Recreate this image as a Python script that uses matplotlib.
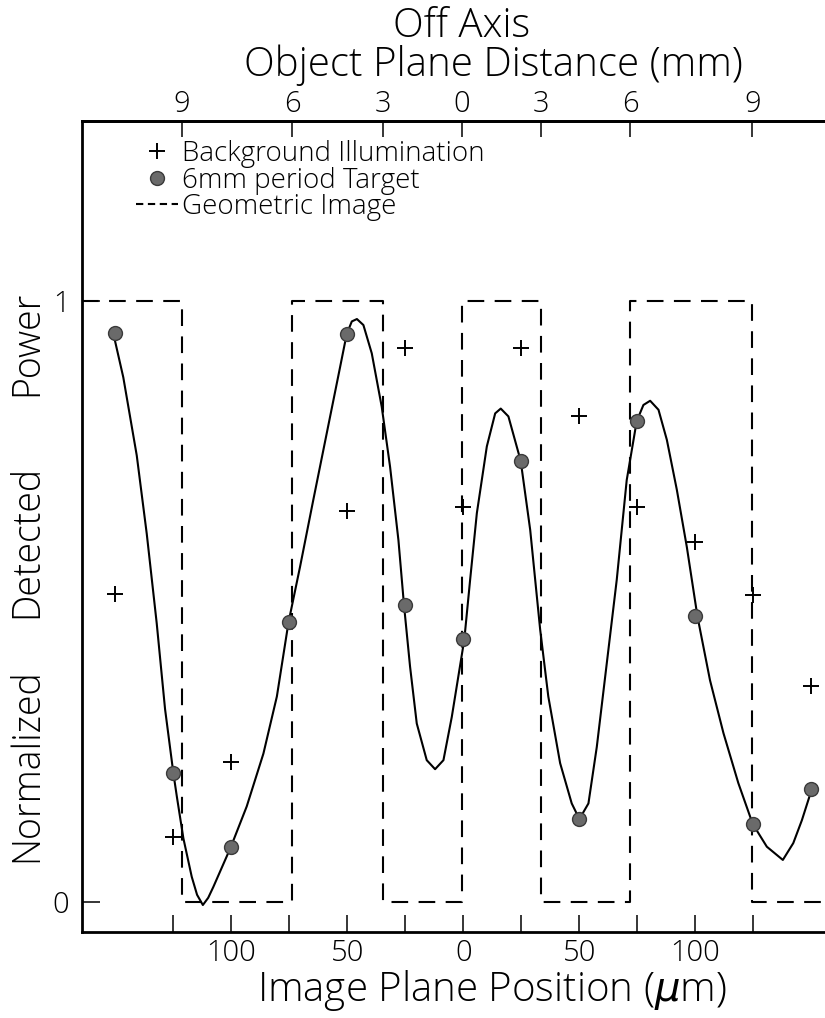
import numpy as np
import matplotlib
matplotlib.use('Agg')
import matplotlib.pyplot as plt
from matplotlib.lines import Line2D

plt.rcParams['font.family'] = ['Open Sans', 'DejaVu Sans']
plt.rcParams['font.weight'] = 'light'
plt.rcParams['mathtext.fontset'] = 'dejavusans'

# 6mm period target (measured points)
target_x = [-150, -125, -100, -75, -50, -25, 0, 25, 50, 75, 100, 125, 150]
target_y = [0.946, 0.214, 0.091, 0.466, 0.945, 0.494, 0.437, 0.734, 0.138, 0.800, 0.476, 0.129, 0.188]

# background illumination
bg_x = [-150, -125, -100, -50, -25, 0, 25, 50, 75, 100, 125, 150]
bg_y = [0.512, 0.108, 0.233, 0.651, 0.922, 0.658, 0.921, 0.809, 0.658, 0.599, 0.511, 0.359]

# fitted curve
curve_x = [-150.9, -146.6, -140.8, -136.5, -132.2, -128.6, -125.0, -123.5, -120.7, -117.1,
           -114.8, -112.3, -110.0, -107.8, -100.3, -93.4, -86.2, -80.4, -75.4, -70.4,
           -64.7, -58.9, -53.1, -50.3, -48.1, -45.9, -43.1, -39.5, -35.2, -31.6,
           -28.0, -25.6, -23.0, -20.1, -15.8, -12.2, -8.6, -5.0, 0.4, 2.9,
           5.8, 10.1, 13.7, 16.1, 19.4, 24.7, 28.8, 33.1, 36.6, 41.7,
           46.7, 50.0, 53.9, 57.5, 61.8, 66.1, 70.4, 74.7, 77.6, 80.5,
           84.1, 87.7, 92.0, 96.3, 100.9, 106.3, 112.1, 118.5, 124.7, 130.8,
           137.7, 142.2, 145.9, 150.2]
curve_y = [0.946, 0.873, 0.743, 0.613, 0.464, 0.321, 0.214, 0.175, 0.106, 0.042,
           0.012, -0.005, 0.007, 0.025, 0.091, 0.159, 0.247, 0.342, 0.465, 0.558,
           0.669, 0.780, 0.891, 0.945, 0.966, 0.970, 0.960, 0.913, 0.824, 0.724,
           0.602, 0.494, 0.392, 0.297, 0.236, 0.221, 0.236, 0.308, 0.437, 0.536,
           0.647, 0.758, 0.813, 0.821, 0.808, 0.734, 0.619, 0.453, 0.342, 0.231,
           0.164, 0.138, 0.164, 0.258, 0.397, 0.536, 0.702, 0.800, 0.827, 0.834,
           0.819, 0.769, 0.686, 0.591, 0.475, 0.369, 0.281, 0.198, 0.130, 0.092,
           0.070, 0.098, 0.136, 0.188]

# geometric image (step edges)
geo_x = [-164.4, -121.4, -73.7, -34.7, -0.7, 33.4, 71.9, 124.6, 156.5, 188.2]
geo_y = [1, 0, 1, 0, 1, 0, 1, 0, 1, 1]

# axes ticks
bottom_ticks = [-125, -100, -75, -50, -25, 0, 25, 50, 75, 100, 125]
bottom_labels = ['', '100', '', '50', '', '0', '', '50', '', '100', '']
top_ticks = [-121.4, -73.7, -34.7, -0.7, 33.4, 71.9, 124.6]
top_labels = ['9', '6', '3', '0', '3', '6', '9']

fig = plt.figure(figsize=(8.25, 10.18), dpi=100)
ax = fig.add_axes([82/825, 1-932/1018, (900-82)/825, (932-121)/1018])

ax.plot(geo_x, geo_y, drawstyle='steps-post', color='black', lw=1.5,
        linestyle=(0, (8, 5)), zorder=2)
ax.plot(curve_x, curve_y, color='black', lw=1.5, solid_joinstyle='round', zorder=3)
ax.plot(bg_x, bg_y, '+', color='black', ms=12, mew=1.4, zorder=4)
ax.plot(target_x, target_y, 'o', color='#6a6a6a', mec='#3a3a3a', ms=10, mew=1, zorder=5)

ax.set_xlim(-164.4, 188.2)
ax.set_ylim(-0.0499, 1.2995)

for s in ax.spines.values():
    s.set_linewidth(2)

ax.set_xticks(bottom_ticks)
ax.set_xticklabels(bottom_labels)
ax.set_yticks([0, 1])
ax.set_yticklabels(['0', '1'])
ax.tick_params(axis='x', direction='in', length=12, width=1.1, labelsize=21, pad=5)
ax.tick_params(axis='y', direction='in', length=13, width=1.1, labelsize=21, pad=9)

top = ax.secondary_xaxis('top')
top.set_xticks(top_ticks)
top.set_xticklabels(top_labels)
top.tick_params(direction='in', length=11.5, width=1.1, labelsize=21, pad=1.5)
top.spines['top'].set_linewidth(2)

fig.text(492/825, 1-1001/1018, r'Image Plane Position ($\mu$m)', ha='center', va='baseline', fontsize=29)
fig.text(493/825, 1-76/1018, 'Off Axis      \nObject Plane Distance (mm)', ha='center',
         va='baseline', multialignment='center', linespacing=0.92, fontsize=29)

# y label, words spread out like the original lettering
for word, yc in [('Normalized', 765), ('Detected', 541), ('Power', 343)]:
    fig.text(27/825, 1-yc/1018, word, rotation=90, ha='center', va='center', fontsize=27)

handles = [Line2D([], [], ls='none', marker='+', color='black', ms=12, mew=1.4),
           Line2D([], [], ls='none', marker='o', color='#6a6a6a', mec='#3a3a3a', ms=10, mew=1),
           Line2D([], [], color='black', lw=1.5, linestyle=(0, (3.5, 2.2)))]
labels = ['Background Illumination', '6mm period Target', 'Geometric Image']
ax.legend(handles, labels, loc='upper left',
          bbox_to_anchor=((136-82)/818, (932-140)/811), frameon=False, fontsize=20,
          borderaxespad=0, borderpad=0, labelspacing=-0.05, handlelength=1.5,
          handletextpad=0.15)

fig.savefig('out.png', dpi=100)
